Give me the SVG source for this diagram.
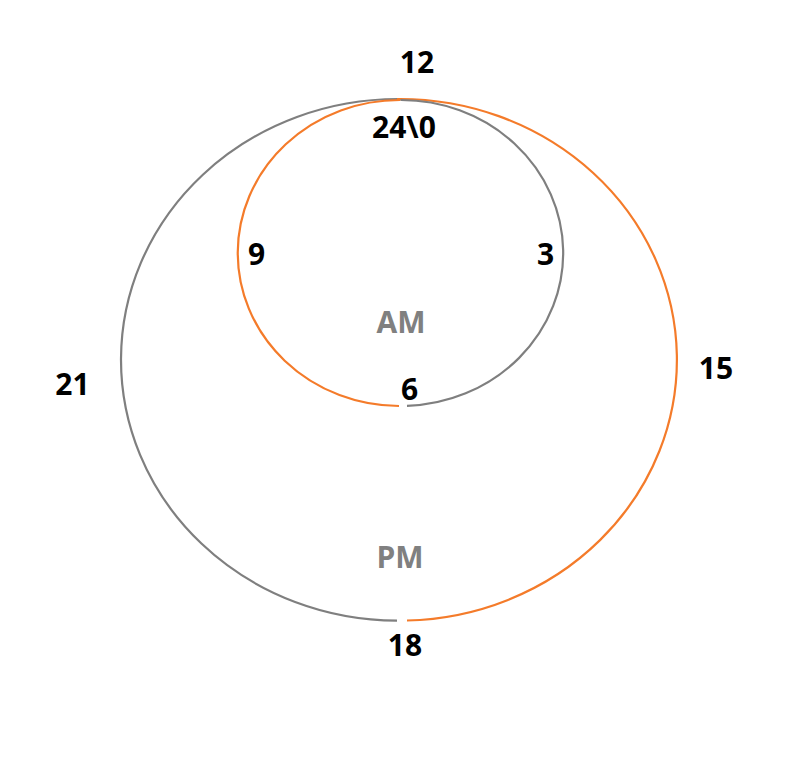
<svg xmlns="http://www.w3.org/2000/svg" width="796" height="772" viewBox="0 0 796 772">
<style>
.g{fill:none;stroke:#7f7f7f;stroke-width:2.2}
.o{fill:none;stroke:#f47b2a;stroke-width:2.2}
.n{font-family:"Open Sans","Liberation Sans",sans-serif;font-weight:700;font-size:30px;fill:#000;text-anchor:middle}
.l{font-family:"Open Sans","Liberation Sans",sans-serif;font-weight:700;font-size:30px;fill:#808080;text-anchor:middle}
</style>
<rect width="796" height="772" fill="#fff"/>
<g id="connectors">
<path id="big-left" class="g" d="M399,99 A277,260.8 0 0 0 397,620.6"/>
<path id="big-right" class="o" d="M397,99 A277,260.8 0 0 1 407,620.5"/>
<path id="small-left" class="o" d="M400.5,100 A162,153 0 0 0 399,406"/>
<path id="small-right" class="g" d="M400.5,100 A162,153 0 0 1 407,405.9"/>
</g>
<g id="node-AM"><text class="l" x="401" y="333">AM</text></g>
<g id="node-PM"><text class="l" x="400" y="568">PM</text></g>
<g id="label-12"><text class="n" x="417" y="73">12</text></g>
<g id="label-24"><text class="n" x="404" y="138">24\0</text></g>
<g id="label-9"><text class="n" x="256.5" y="265">9</text></g>
<g id="label-3"><text class="n" x="545.5" y="265">3</text></g>
<g id="label-6"><text class="n" x="409.5" y="400">6</text></g>
<g id="label-21"><text class="n" x="72.5" y="395">21</text></g>
<g id="label-15"><text class="n" x="716" y="379">15</text></g>
<g id="label-18"><text class="n" x="405" y="656">18</text></g>
</svg>
